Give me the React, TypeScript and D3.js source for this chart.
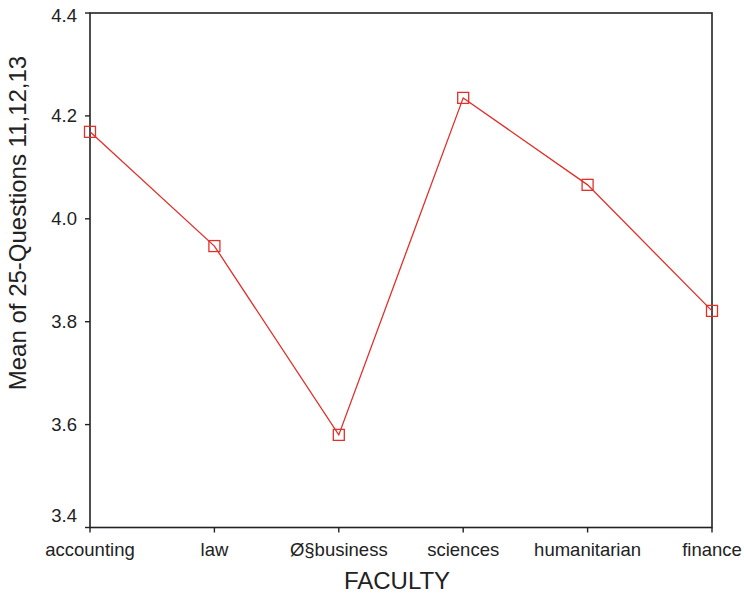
import React from "react";
import * as d3 from "d3";

const categories = ["accounting", "law", "Ø§business", "sciences", "humanitarian", "finance"];
const means = [4.169, 3.947, 3.58, 4.235, 4.066, 3.821];
const yTicks = [3.4, 3.6, 3.8, 4.0, 4.2, 4.4];

const W = 744, H = 596;
const L = 90, R = 712, T = 13, B = 527.5;

export default function App() {
  const x = d3.scalePoint<string>().domain(categories).range([L, R]).padding(0);
  const y = d3.scaleLinear().domain([3.4, 4.4]).range([B, T]);
  const line = d3.line<number>().x((_, i) => x(categories[i]) as number).y(d => y(d));
  const red = "#e0302a";
  const font = "'Liberation Sans', Arial, sans-serif";
  return (
    <svg width={W} height={H} style={{ position: "absolute", left: 0, top: 0 }} fontFamily={font}>
      <rect x={0} y={0} width={W} height={H} fill="#fff" />
      <rect x={L} y={T} width={R - L} height={B - T} fill="none" stroke="#222" strokeWidth={1.6} />
      {yTicks.map(t => {
        const ly = Math.min(Math.max(y(t), T + 3), B - 12);
        return (
          <g key={t}>
            <line x1={L - 5} x2={L} y1={y(t)} y2={y(t)} stroke="#222" strokeWidth={1.4} />
            <text x={77} y={ly} dy="0.35em" textAnchor="end" fontSize={18.5} fill="#222">{t.toFixed(1)}</text>
          </g>
        );
      })}
      {categories.map(c => (
        <g key={c}>
          <line x1={x(c)} x2={x(c)} y1={B} y2={B + 5} stroke="#222" strokeWidth={1.4} />
          <text x={x(c)} y={556} textAnchor="middle" fontSize={18.5} fill="#222">{c}</text>
        </g>
      ))}
      <path d={line(means) || ""} fill="none" stroke={red} strokeWidth={1.3} />
      {means.map((m, i) => (
        <rect key={i} x={(x(categories[i]) as number) - 5.5} y={y(m) - 5.5} width={11} height={11} fill="none" stroke={red} strokeWidth={1.3} />
      ))}
      <text x={397} y={589} textAnchor="middle" fontSize={24} fill="#222">FACULTY</text>
      <text transform={`translate(26,223) rotate(-90)`} textAnchor="middle" fontSize={24} fill="#222">Mean of 25-Questions 11,12,13</text>
    </svg>
  );
}
